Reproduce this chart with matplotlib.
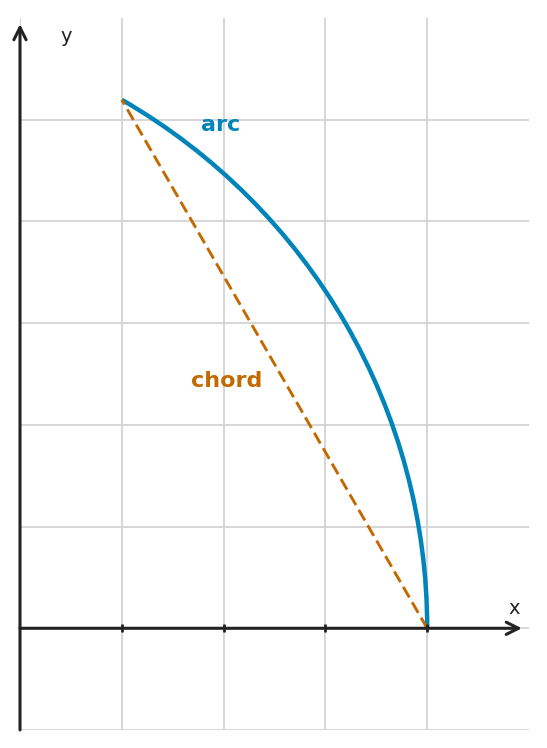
#Importing Libraries
import numpy as np
import matplotlib
matplotlib.use("Agg")
import matplotlib.pyplot as plt
from matplotlib.patches import Arc

#Arc data (circle centre, radius, angles in degrees)
arc_center = (-2.0, 0.0)
arc_radius = 6.0
arc_angles = [0.0, 60.0]

#Chord end points
chord_x = [4.0, 1.0]
chord_y = [0.0, 5.196]

#Ticks and limits
x_ticks = [0, 1, 2, 3, 4]
y_ticks = [-1, 0, 1, 2, 3, 4, 5]
x_lim = [0, 5]
y_lim = [-1, 6]

blue = "#0084b9"
orange = "#c26a00"
dark = "#222222"

fig = plt.figure(figsize=(5.47, 7.48), dpi=100)
ax = fig.add_axes([20 / 547, 18 / 748, 509 / 547, 712 / 748])
ax.set_xlim(x_lim)
ax.set_ylim(y_lim)
ax.set_aspect("auto")

#Grid
ax.set_xticks(x_ticks)
ax.set_yticks(y_ticks)
ax.set_xticklabels([])
ax.set_yticklabels([])
ax.grid(True, color="#d3d3d3", lw=1.3)
ax.set_axisbelow(True)

#Axes through the origin
for side in ["top", "right", "left", "bottom"]:
    ax.spines[side].set_visible(False)
ax.tick_params(length=0)

#Tick marks drawn on the axes
ax.plot(x_ticks[1:], [0] * (len(x_ticks) - 1), ls="none", marker="|",
        ms=6, mew=2, color=dark, zorder=5)
ax.plot([0] * len(y_ticks), y_ticks, ls="none", marker=0,
        ms=3, mew=1.5, color=dark, zorder=5)

#Arrows for axes
ax.annotate("", xy=(4.93, 0), xytext=(0, 0),
            arrowprops=dict(arrowstyle="->", lw=2.2, color=dark,
                            mutation_scale=22, shrinkA=0, shrinkB=0), zorder=4)
ax.annotate("", xy=(0, 5.94), xytext=(0, -1),
            arrowprops=dict(arrowstyle="->", lw=2.2, color=dark,
                            mutation_scale=22, shrinkA=0, shrinkB=0), zorder=4)
ax.text(4.85, 0.19, "x", fontsize=14, color=dark, ha="center", va="center")
ax.text(0.45, 5.82, "y", fontsize=14, color=dark, ha="center", va="center")

#Arc
arc = Arc(arc_center, 2 * arc_radius, 2 * arc_radius,
          theta1=arc_angles[0], theta2=arc_angles[1],
          color=blue, lw=3.2, zorder=3)
ax.add_patch(arc)

#Chord
ax.plot(chord_x, chord_y, ls=(0, (4.2, 1.9)), lw=2.1, color=orange, zorder=3)

#Labels
ax.text(1.97, 4.95, "arc", fontsize=16, fontweight="bold", color=blue,
        ha="center", va="center")
ax.text(2.03, 2.43, "chord", fontsize=16, fontweight="bold", color=orange,
        ha="center", va="center")

fig.savefig("out.png", dpi=100)
